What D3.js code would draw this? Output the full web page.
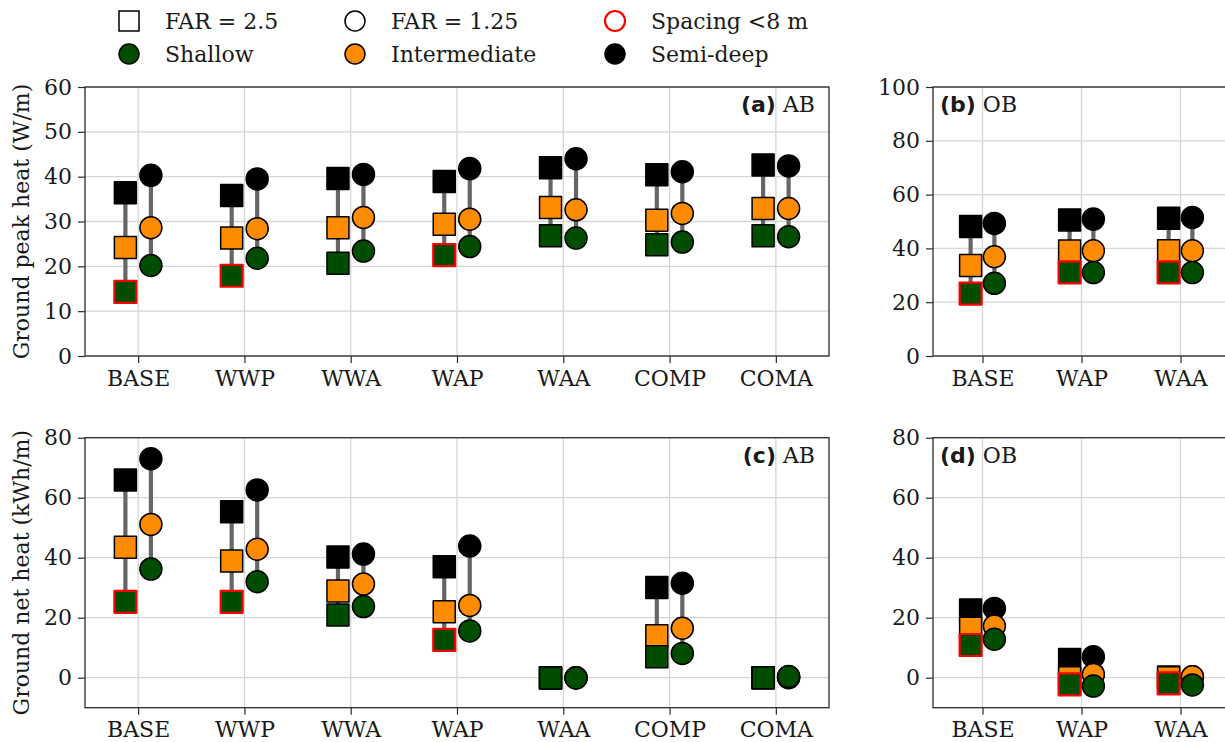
<!DOCTYPE html>
<html>
<head>
<meta charset="utf-8">
<script src="https://cdn.jsdelivr.net/npm/d3@7/dist/d3.min.js"></script>
<style>
  html, body { margin: 0; padding: 0; background: #fff; }
  svg { display: block; }
  text { font-family: "DejaVu Serif", serif; fill: #1a1a1a; }
</style>
</head>
<body>
<svg id="chart" width="1225" height="742"></svg>
<script>
// Scenario categories
const catsAB = ["BASE", "WWP", "WWA", "WAP", "WAA", "COMP", "COMA"];
const catsOB = ["BASE", "WAP", "WAA"];

// Ground peak heat (W/m), AB
const peakAB_far25_semi    = [36.4, 35.8, 39.6, 38.9, 42.0, 40.4, 42.6];
const peakAB_far25_inter   = [24.2, 26.3, 28.6, 29.4, 33.1, 30.3, 32.9];
const peakAB_far25_shallow = [14.3, 17.9, 20.7, 22.5, 26.8, 24.8, 26.8];
const peakAB_far125_semi    = [40.3, 39.5, 40.5, 41.8, 44.0, 41.1, 42.4];
const peakAB_far125_inter   = [28.6, 28.4, 30.9, 30.5, 32.6, 31.8, 32.9];
const peakAB_far125_shallow = [20.2, 21.8, 23.4, 24.4, 26.3, 25.4, 26.6];
const peakAB_spacing = [true, true, false, true, false, false, false];

// Ground peak heat (W/m), OB
const peakOB_far25_semi    = [48.1, 50.6, 51.2];
const peakOB_far25_inter   = [33.6, 39.0, 39.1];
const peakOB_far25_shallow = [23.2, 31.1, 31.1];
const peakOB_far125_semi    = [49.3, 50.9, 51.5];
const peakOB_far125_inter   = [36.9, 39.1, 39.1];
const peakOB_far125_shallow = [27.0, 31.0, 31.0];
const peakOB_spacing = [true, true, true];

// Ground net heat (kWh/m), AB
const netAB_far25_semi    = [65.9, 55.3, 40.2, 37.0, 0.0, 30.1, 0.0];
const netAB_far25_inter   = [43.5, 38.9, 28.9, 22.0, 0.0, 14.0, 0.0];
const netAB_far25_shallow = [25.3, 25.3, 20.9, 12.6, -0.1, 7.0, 0.0];
const netAB_far125_semi    = [73.0, 62.6, 41.2, 43.9, 0.0, 31.5, 0.0];
const netAB_far125_inter   = [51.1, 42.8, 31.2, 24.1, 0.0, 16.5, 0.2];
const netAB_far125_shallow = [36.2, 32.0, 23.7, 15.6, -0.1, 8.1, 0.4];
const netAB_spacing = [true, true, false, true, false, false, false];

// Ground net heat (kWh/m), OB
const netOB_far25_semi    = [22.6, 6.1, 0.2];
const netOB_far25_inter   = [16.5, 0.0, 0.0];
const netOB_far25_shallow = [10.9, -2.2, -1.9];
const netOB_far125_semi    = [23.1, 7.0, 0.3];
const netOB_far125_inter   = [17.2, 1.1, 0.3];
const netOB_far125_shallow = [12.8, -2.8, -2.4];
const netOB_spacing = [true, true, true];

// Tick values
const peakABTicks = [0, 10, 20, 30, 40, 50, 60];
const peakOBTicks = [0, 20, 40, 60, 80, 100];
const netTicks = [0, 20, 40, 60, 80];

const COL = { semi: "#000000", inter: "#ff8c00", shallow: "#004d00" };
const STEM = "#666666";
const GRID = "#d6d6d6";
const SPINE = "#2b2b2b";
const FS = 22;
const SQ = 22, CR = 11, OFF = 0.12;

const svg = d3.select("#chart");

function panel(opt) {
  const { left, right, top, bottom, cats, yDomain, yTicks, data, tag, tagName, tagRight, ylabel } = opt;
  const g = svg.append("g");
  const x = d3.scaleLinear().domain([-0.5, cats.length - 0.5]).range([left, right]);
  const y = d3.scaleLinear().domain(yDomain).range([bottom, top]);

  // grid
  g.append("g").selectAll("line.gy").data(yTicks).join("line")
    .attr("x1", left).attr("x2", right)
    .attr("y1", d => y(d)).attr("y2", d => y(d))
    .attr("stroke", GRID).attr("stroke-width", 1.3);
  g.append("g").selectAll("line.gx").data(cats).join("line")
    .attr("x1", (d, i) => x(i)).attr("x2", (d, i) => x(i))
    .attr("y1", top).attr("y2", bottom)
    .attr("stroke", GRID).attr("stroke-width", 1.3);

  // axes
  const yAxis = d3.axisLeft(y).tickValues(yTicks).tickSize(7).tickPadding(6).tickFormat(d3.format("d"));
  const ya = g.append("g").attr("transform", `translate(${left},0)`).call(yAxis);
  const xAxis = d3.axisBottom(x).tickValues(d3.range(cats.length)).tickSize(7).tickPadding(7)
    .tickFormat(i => cats[i]);
  const xa = g.append("g").attr("transform", `translate(0,${bottom})`).call(xAxis);
  [ya, xa].forEach(a => {
    a.select(".domain").remove();
    a.selectAll(".tick line").attr("stroke", SPINE).attr("stroke-width", 1.2);
    a.selectAll(".tick text").attr("font-size", FS).attr("font-family", "DejaVu Serif").attr("fill", "#1a1a1a");
  });

  // frame
  g.append("rect").attr("x", left).attr("y", top)
    .attr("width", right - left).attr("height", bottom - top)
    .attr("fill", "none").attr("stroke", SPINE).attr("stroke-width", 1.3);

  // stems and markers
  const groups = [
    { shape: "square", off: -OFF, s: data.sq },
    { shape: "circle", off: OFF, s: data.ci }
  ];
  groups.forEach(gr => {
    cats.forEach((c, i) => {
      const vals = [gr.s.semi[i], gr.s.inter[i], gr.s.shallow[i]];
      const lo = d3.min(vals), hi = d3.max(vals);
      g.append("line")
        .attr("x1", x(i + gr.off)).attr("x2", x(i + gr.off))
        .attr("y1", y(lo)).attr("y2", y(hi))
        .attr("stroke", STEM).attr("stroke-width", 4.2);
    });
  });
  groups.forEach(gr => {
    ["semi", "inter", "shallow"].forEach(key => {
      const vals = gr.s[key];
      const sel = g.append("g").selectAll("path").data(vals).join("path");
      if (gr.shape === "square") {
        sel.attr("d", (v, i) => {
          const cx = x(i + gr.off), cy = y(v);
          return `M${cx - SQ / 2},${cy - SQ / 2}h${SQ}v${SQ}h${-SQ}Z`;
        });
      } else {
        sel.attr("d", (v, i) => {
          const cx = x(i + gr.off), cy = y(v);
          return `M${cx - CR},${cy}a${CR},${CR} 0 1,0 ${2 * CR},0a${CR},${CR} 0 1,0 ${-2 * CR},0Z`;
        });
      }
      sel.attr("fill", COL[key])
        .attr("stroke", (v, i) => (gr.shape === "square" && key === "shallow" && data.spacing[i]) ? "#ff0000" : "#000")
        .attr("stroke-width", (v, i) => (gr.shape === "square" && key === "shallow" && data.spacing[i]) ? 2.2 : 1.5)
        .attr("stroke-linejoin", "round");
    });
  });

  // panel tag
  const t = g.append("text").attr("y", top + 25).attr("font-size", FS);
  t.append("tspan").attr("font-family", "DejaVu Sans").attr("font-weight", "bold").text(tag);
  t.append("tspan").attr("font-family", "DejaVu Serif").text(" " + tagName);
  if (tagRight) {
    t.attr("x", right - 14).attr("text-anchor", "end");
  } else {
    t.attr("x", left + 7);
  }

  if (ylabel) {
    svg.append("text")
      .attr("transform", `translate(${left - 56},${(top + bottom) / 2}) rotate(-90)`)
      .attr("text-anchor", "middle").attr("font-size", FS)
      .text(ylabel);
  }
}

panel({
  left: 85, right: 829, top: 87, bottom: 356, cats: catsAB,
  yDomain: [0, 60], yTicks: peakABTicks, tag: "(a)", tagName: "AB", tagRight: true,
  ylabel: "Ground peak heat (W/m)",
  data: {
    sq: { semi: peakAB_far25_semi, inter: peakAB_far25_inter, shallow: peakAB_far25_shallow },
    ci: { semi: peakAB_far125_semi, inter: peakAB_far125_inter, shallow: peakAB_far125_shallow },
    spacing: peakAB_spacing
  }
});
panel({
  left: 933, right: 1230, top: 87, bottom: 356, cats: catsOB,
  yDomain: [0, 100], yTicks: peakOBTicks, tag: "(b)", tagName: "OB", tagRight: false,
  data: {
    sq: { semi: peakOB_far25_semi, inter: peakOB_far25_inter, shallow: peakOB_far25_shallow },
    ci: { semi: peakOB_far125_semi, inter: peakOB_far125_inter, shallow: peakOB_far125_shallow },
    spacing: peakOB_spacing
  }
});
panel({
  left: 85, right: 829, top: 437.7, bottom: 707.7, cats: catsAB,
  yDomain: [-10, 80], yTicks: netTicks, tag: "(c)", tagName: "AB", tagRight: true,
  ylabel: "Ground net heat (kWh/m)",
  data: {
    sq: { semi: netAB_far25_semi, inter: netAB_far25_inter, shallow: netAB_far25_shallow },
    ci: { semi: netAB_far125_semi, inter: netAB_far125_inter, shallow: netAB_far125_shallow },
    spacing: netAB_spacing
  }
});
panel({
  left: 933, right: 1230, top: 437.7, bottom: 707.7, cats: catsOB,
  yDomain: [-10, 80], yTicks: netTicks, tag: "(d)", tagName: "OB", tagRight: false,
  data: {
    sq: { semi: netOB_far25_semi, inter: netOB_far25_inter, shallow: netOB_far25_shallow },
    ci: { semi: netOB_far125_semi, inter: netOB_far125_inter, shallow: netOB_far125_shallow },
    spacing: netOB_spacing
  }
});

// legend
const legendItems = [
  { col: 0, row: 0, shape: "square", fill: "none", stroke: "#000", label: "FAR = 2.5" },
  { col: 1, row: 0, shape: "circle", fill: "none", stroke: "#000", label: "FAR = 1.25" },
  { col: 2, row: 0, shape: "circle", fill: "none", stroke: "#ff0000", label: "Spacing <8 m" },
  { col: 0, row: 1, shape: "circle", fill: COL.shallow, stroke: "#000", label: "Shallow" },
  { col: 1, row: 1, shape: "circle", fill: COL.inter, stroke: "#000", label: "Intermediate" },
  { col: 2, row: 1, shape: "circle", fill: COL.semi, stroke: "#000", label: "Semi-deep" }
];
const legColX = [129, 355, 615];
const legRowY = [21, 54];
const leg = svg.append("g");
legendItems.forEach(it => {
  const cx = legColX[it.col], cy = legRowY[it.row];
  if (it.shape === "square") {
    leg.append("rect").attr("x", cx - 10).attr("y", cy - 10).attr("width", 20).attr("height", 20)
      .attr("fill", it.fill).attr("stroke", it.stroke).attr("stroke-width", 1.5);
  } else {
    leg.append("circle").attr("cx", cx).attr("cy", cy).attr("r", 10)
      .attr("fill", it.fill).attr("stroke", it.stroke)
      .attr("stroke-width", it.stroke === "#ff0000" ? 2.2 : 1.5);
  }
  leg.append("text").attr("x", cx + 36).attr("y", cy).attr("dy", "0.35em")
    .attr("font-size", FS).text(it.label);
});
</script>
</body>
</html>
